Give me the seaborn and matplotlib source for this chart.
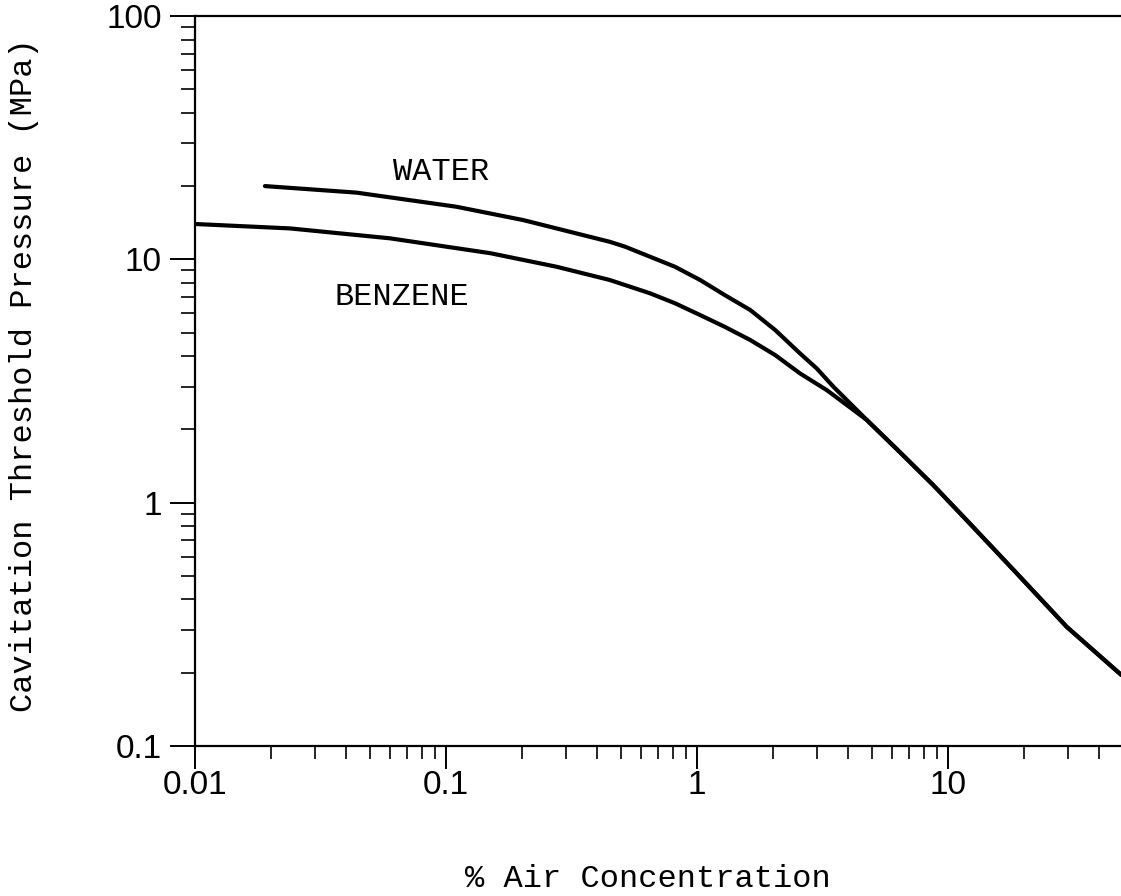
import numpy as np
import pandas as pd
import matplotlib
matplotlib.use("Agg")
import matplotlib.pyplot as plt
from matplotlib.ticker import LogLocator, NullFormatter, FixedLocator, FixedFormatter
import seaborn as sns

# ---- data ----
water_air = [0.019, 0.044, 0.110, 0.203, 0.450, 0.517, 0.650, 0.817, 1.03, 1.29, 1.63,
             2.05, 2.57, 3.00, 3.49, 4.20, 4.74, 6.25, 8.74, 12.2, 18.8, 29.7, 49.0]
water_p = [20.0, 18.8, 16.45, 14.5, 11.8, 11.27, 10.25, 9.32, 8.22, 7.13, 6.19,
           5.12, 4.11, 3.56, 3.00, 2.48, 2.19, 1.66, 1.18, 0.822, 0.512, 0.309, 0.196]

benzene_air = [0.010, 0.0239, 0.0598, 0.150, 0.276, 0.450, 0.517, 0.650, 0.817, 1.03,
               1.29, 1.63, 2.05, 2.57, 3.29, 3.95, 4.74, 6.25, 8.74, 12.2, 18.8, 29.7, 49.0]
benzene_p = [13.97, 13.4, 12.2, 10.6, 9.32, 8.22, 7.84, 7.25, 6.60, 5.90,
             5.28, 4.66, 4.04, 3.40, 2.90, 2.52, 2.19, 1.66, 1.18, 0.822, 0.512, 0.309, 0.196]

x_major = [0.01, 0.1, 1, 10]
x_major_labels = ["0.01", "0.1", "1", "10"]
y_major = [0.1, 1, 10, 100]
y_major_labels = ["0.1", "1", "10", "100"]

curve_labels = ["WATER", "BENZENE"]

# ---- styling ----
sns.set_theme(style="white")
plt.rcParams["font.family"] = ["Liberation Sans Narrow", "Liberation Sans", "DejaVu Sans"]

fig = plt.figure(figsize=(11.21, 8.96), dpi=100)
W, H = 1121, 896
left_px, right_px, top_px, bottom_px = 195, 1121, 16, 746
ax = fig.add_axes([left_px / W, 1 - bottom_px / H, (right_px - left_px) / W, (bottom_px - top_px) / H])

df_w = pd.DataFrame({"air": water_air, "p": water_p})
df_b = pd.DataFrame({"air": benzene_air, "p": benzene_p})
sns.lineplot(data=df_w, x="air", y="p", ax=ax, color="black", linewidth=3.0, sort=True, estimator=None)
sns.lineplot(data=df_b, x="air", y="p", ax=ax, color="black", linewidth=3.0, sort=True, estimator=None)

ax.set_xscale("log")
ax.set_yscale("log")
xmax = 0.01 * 10 ** ((right_px - left_px) / 251.0)
ax.set_xlim(0.01, xmax)
ax.set_ylim(0.1, 100)

ax.xaxis.set_major_locator(FixedLocator(x_major))
ax.xaxis.set_major_formatter(FixedFormatter(x_major_labels))
ax.yaxis.set_major_locator(FixedLocator(y_major))
ax.yaxis.set_major_formatter(FixedFormatter(y_major_labels))
ax.xaxis.set_minor_locator(LogLocator(base=10, subs=np.arange(2, 10)))
ax.yaxis.set_minor_locator(LogLocator(base=10, subs=np.arange(2, 10)))
ax.xaxis.set_minor_formatter(NullFormatter())
ax.yaxis.set_minor_formatter(NullFormatter())

ax.tick_params(axis="x", which="major", direction="out", length=16.8, width=1.4, pad=0.5,
               labelsize=24, colors="black", bottom=True, top=False)
ax.tick_params(axis="x", which="minor", direction="out", length=9.5, width=1.4,
               bottom=True, top=False)
ax.tick_params(axis="y", which="major", direction="out", length=18, width=1.4, pad=5.8,
               labelsize=24, colors="black", left=True, right=False)
ax.tick_params(axis="y", which="minor", direction="out", length=10, width=1.4,
               left=True, right=False)

for side in ["left", "bottom", "top"]:
    ax.spines[side].set_visible(True)
    ax.spines[side].set_color("black")
    ax.spines[side].set_linewidth(1.6)
ax.spines["right"].set_visible(False)

mono = ["Liberation Mono", "DejaVu Sans Mono"]
ax.set_xlabel("% Air Concentration", fontsize=23, family=mono, color="black")
ax.set_ylabel("Cavitation Threshold Pressure (MPa)", fontsize=23, family=mono, color="black")
ax.xaxis.set_label_coords(0.489, -0.162)
ax.yaxis.set_label_coords(-0.168, 0.508)

ax.text(0.0955, 21.2, curve_labels[0], ha="center", va="baseline", fontsize=23, family=mono, color="black")
ax.text(0.0668, 6.49, curve_labels[1], ha="center", va="baseline", fontsize=23, family=mono, color="black")

ax.grid(False)
fig.savefig("out.png", dpi=100, facecolor="white")
